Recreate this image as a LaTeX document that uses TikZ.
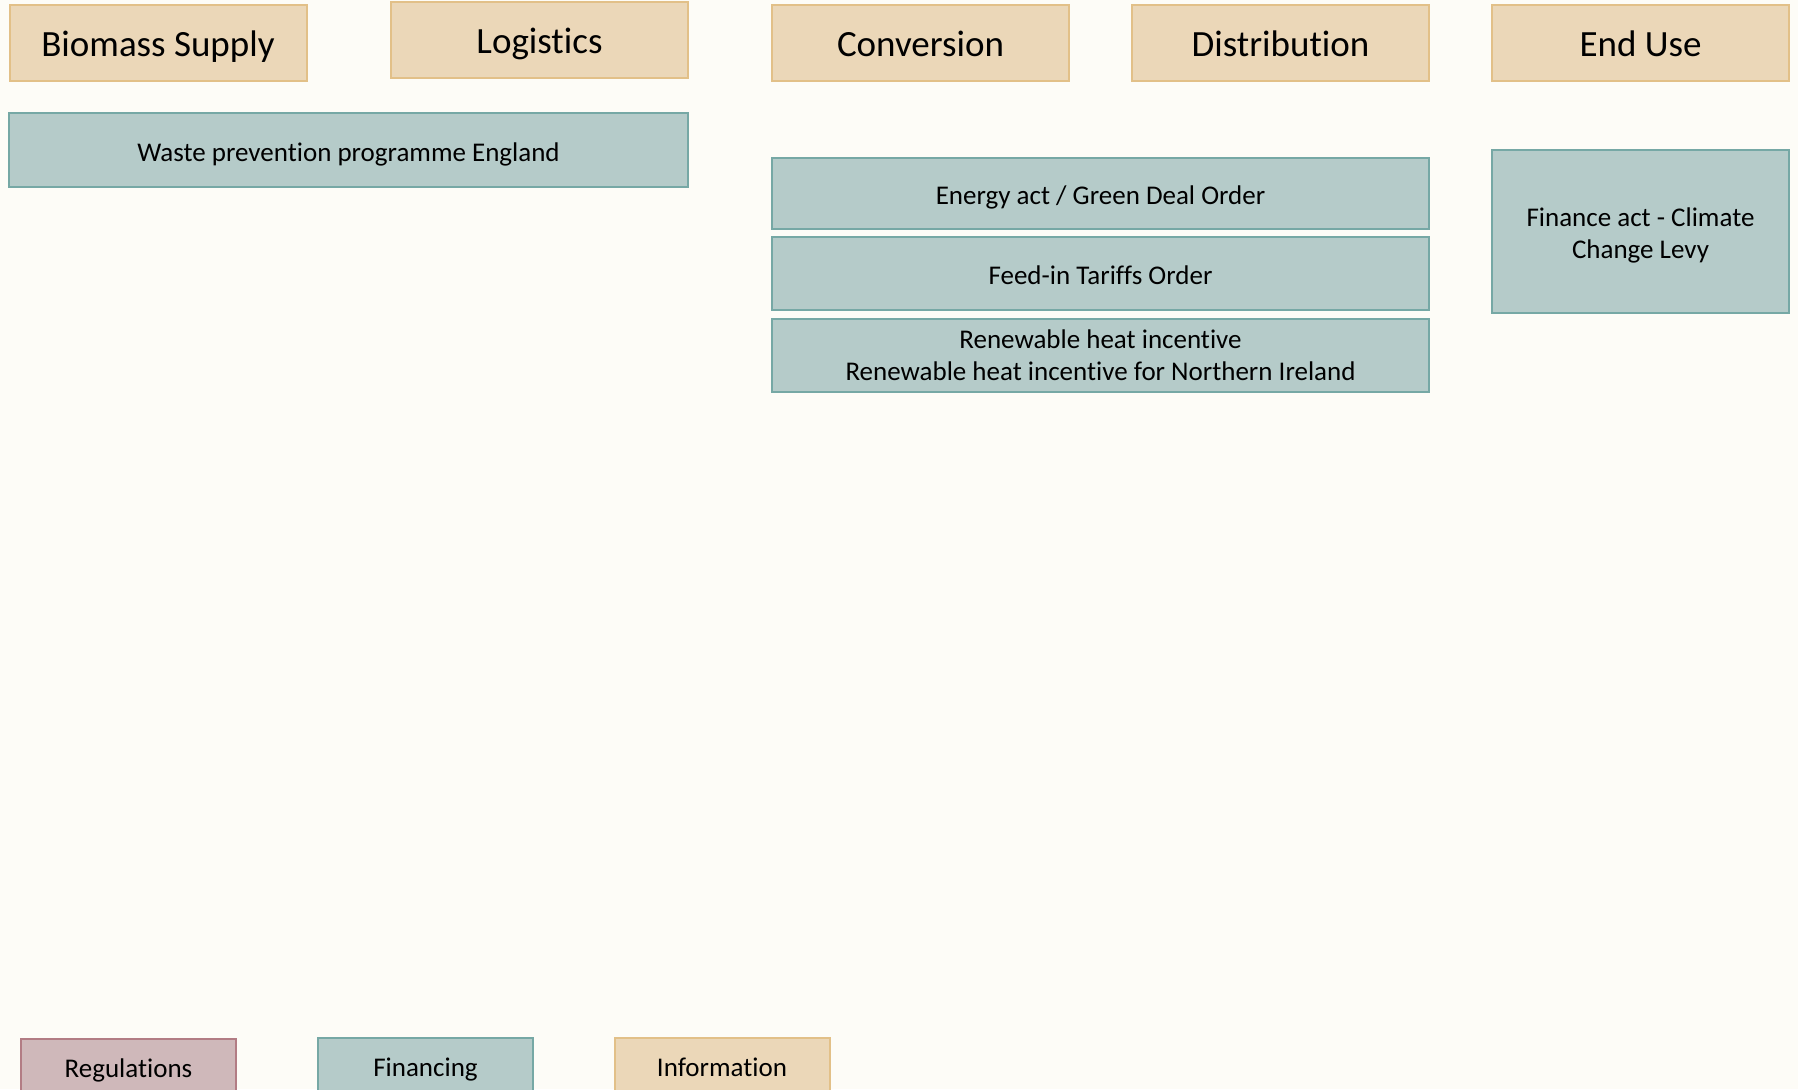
\documentclass[tikz,border=0pt]{standalone}
\usepackage{fontspec}
\setmainfont{Carlito}[Ligatures={NoCommon}]

\definecolor{paper}{HTML}{FDFCF7}
\definecolor{tanfill}{HTML}{EBD7B8}
\definecolor{tanline}{HTML}{E2C088}
\definecolor{tealfill}{HTML}{B5CBC9}
\definecolor{tealline}{HTML}{76A8A5}
\definecolor{rosefill}{HTML}{CFB8BA}
\definecolor{roseline}{HTML}{B27C84}

\newcommand{\topstrut}{\rule{0pt}{0.95em}}
\newcommand{\botstrut}{\rule[-0.25em]{0pt}{0pt}}

\begin{document}
\begin{tikzpicture}[x=1pt, y=-1pt,
    bigline/.style={text height=32pt, text depth=5pt},
    oneline/.style={text height=27pt, text depth=5pt},
    stage/.style={draw=tanline, fill=tanfill, line width=2pt, inner sep=0pt, bigline,
      minimum width=297pt, minimum height=76pt, font=\fontsize{37}{44}\selectfont},
    policy/.style={draw=tealline, fill=tealfill, line width=2pt, inner sep=0pt,
      align=center, font=\fontsize{27}{32}\selectfont},
    legend/.style={draw=#1line, fill=#1fill, line width=2pt, inner sep=0pt, oneline,
      minimum width=215pt, minimum height=54pt, font=\fontsize{27}{32}\selectfont}]
			\useasboundingbox[fill=paper] (0,0) rectangle (1798,1089);
			\clip (0,0) rectangle (1798,1089);
			% value chain stages
			\node[stage] (supply) at (158,43) {Biomass Supply};
			\node[stage] (logistics) at (539.5,40) {Logistics};
			\node[stage] (conversion) at (920.5,43) {Conversion};
			\node[stage] (distribution) at (1280.5,43) {Distribution};
			\node[stage] (enduse) at (1640.5,43) {End Use};
			% policies
			\node[policy, oneline, minimum width=679pt, minimum height=73pt] (waste) at (348.5,150) {Waste prevention programme England};
			\node[policy, oneline, minimum width=657pt, minimum height=71pt] (greendeal) at (1100.5,193.5) {Energy act / Green Deal Order};
			\node[policy, oneline, minimum width=657pt, minimum height=73pt] (feedin) at (1100.5,273.5) {Feed-in Tariffs Order};
			\node[policy, minimum width=657pt, minimum height=73pt] (rhi) at (1100.5,355.5) {\topstrut Renewable heat incentive\\Renewable heat incentive for Northern Ireland\botstrut};
			\node[policy, minimum width=297pt, minimum height=163pt] (levy) at (1640.5,231.5) {\topstrut Finance act - Climate\\Change Levy};
			% legend
			\node[legend=rose] (regulations) at (128.5,1066) {Regulations};
			\node[legend=teal] (financing) at (425.5,1065) {Financing};
			\node[legend=tan] (information) at (722,1065) {Information};
		\end{tikzpicture}
\end{document}
